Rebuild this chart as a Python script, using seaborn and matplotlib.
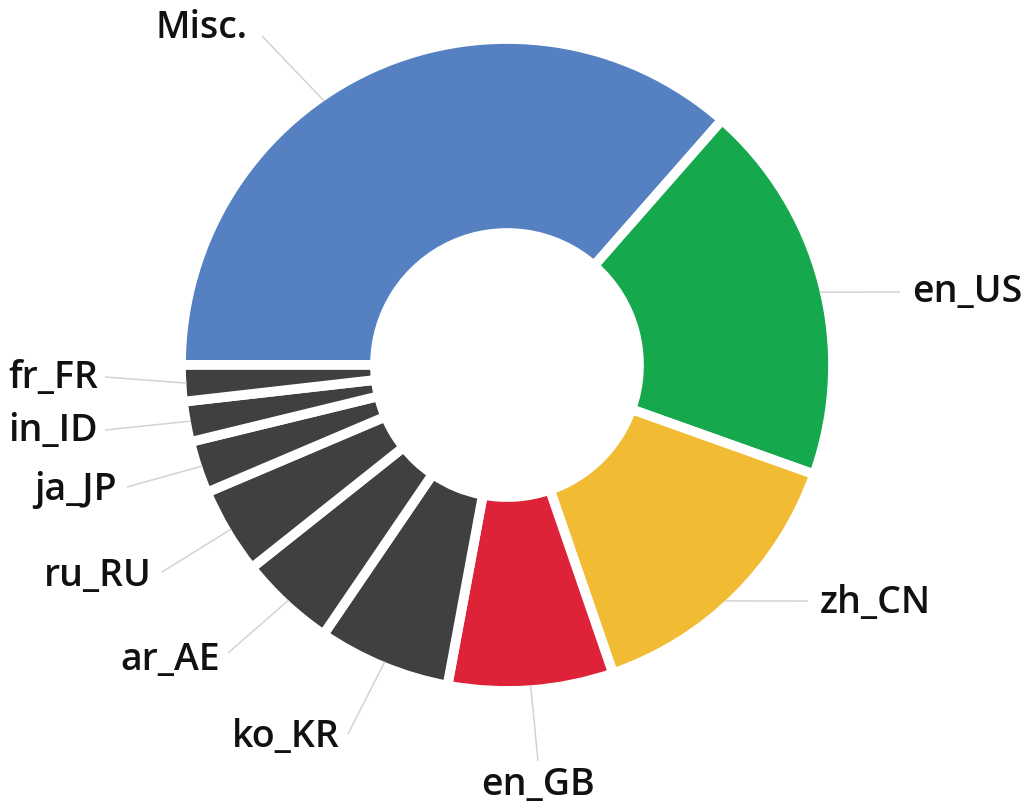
import numpy as np
import matplotlib
matplotlib.use("Agg")
import matplotlib.pyplot as plt
import seaborn as sns

# share of users per locale (percent), clockwise from the left
locales = ["Misc.", "en_US", "zh_CN", "en_GB", "ko_KR", "ar_AE", "ru_RU", "ja_JP", "in_ID", "fr_FR"]
shares = [36.5, 19.0, 14.3, 8.2, 6.6, 4.8, 4.3, 2.6, 2.0, 1.8]
colors = ["#5580C1", "#16A84D", "#F1BC33", "#DE2338"] + ["#404040"] * 6

sns.set_theme(style="white")
plt.rcParams["font.family"] = ["Open Sans", "DejaVu Sans"]

W, H = 1024, 803
fig = plt.figure(figsize=(W / 100, H / 100), dpi=100)
ax = fig.add_axes([0, 0, 1, 1])

# pixel layout: y measured from the top of the image
cx, cy, R = 507, 366, 326
wedges, _ = ax.pie(shares, colors=colors, startangle=180, counterclock=False,
                   center=(cx, H - cy), radius=R,
                   wedgeprops=dict(width=194, edgecolor="white", linewidth=7))
ax.set_xlim(0, W)
ax.set_ylim(0, H)
ax.set_aspect("equal")
ax.axis("off")

# where each connector ends and where its label sits
line_ends = [(262, 37), (900, 293), (808, 602), (538, 762), (348, 735),
             (228, 654), (162, 573), (127, 488), (105, 431), (105, 378)]
label_pos = [(247, 28, "right", "center"), (912, 292, "left", "center"),
             (820, 603, "left", "center"), (538, 766, "center", "top"),
             (340, 737, "right", "center"), (220, 660, "right", "center"),
             (152, 576, "right", "center"), (117, 490, "right", "center"),
             (98, 431, "right", "center"), (98, 378, "right", "center")]
anchor_override = {"Misc.": 124.7, "en_US": 13.1, "zh_CN": -47.3}

for w, name, end, (tx, ty, ha, va) in zip(wedges, locales, line_ends, label_pos):
    ang = anchor_override.get(name, (w.theta1 + w.theta2) / 2)
    a = np.deg2rad(ang)
    sx = cx + 321 * np.cos(a)
    sy = cy - 321 * np.sin(a)
    ax.plot([sx, end[0]], [H - sy, H - end[1]], color="#D3D3D3", lw=1.1,
            solid_capstyle="butt")
    ax.text(tx, H - ty, name, ha=ha, va=va, fontsize=27, fontweight=600,
            color="#111111")

fig.savefig("out.png", dpi=100)
